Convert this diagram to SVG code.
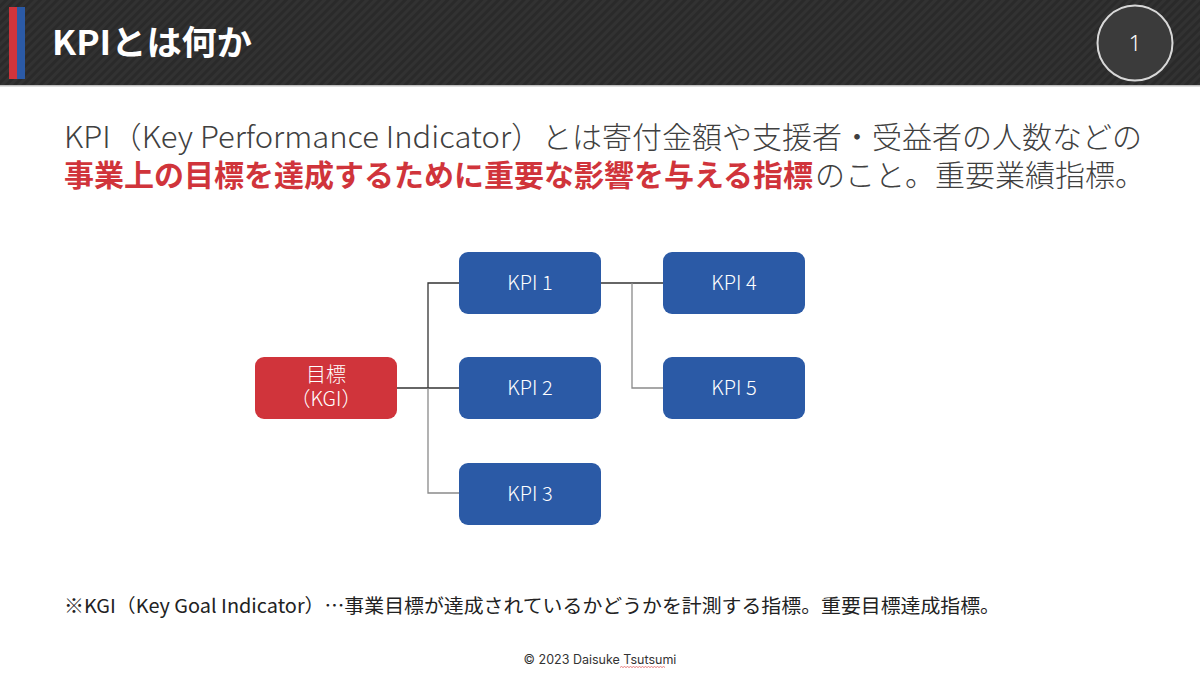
<svg xmlns="http://www.w3.org/2000/svg" width="1200" height="676" viewBox="0 0 1200 676">
<defs>
<pattern id="carbon" width="6" height="6" patternUnits="userSpaceOnUse" patternTransform="rotate(-45)">
<rect width="6" height="6" fill="#2a2a2a"/>
<rect width="6" height="3" fill="#323232"/>
</pattern>
<style>
.jp{font-family:"Noto Sans CJK JP","Noto Sans",sans-serif;}
.node text{fill:#ffffff;font-size:20px;text-anchor:middle;font-weight:300;}
.blue{fill:#2b5aa6;}
.red{fill:#d0343b;}
.dk{stroke:#333333;stroke-width:1.3;fill:none;}
.lt{stroke:#8a8a8a;stroke-width:1.3;fill:none;}
</style>
</defs>
<rect width="1200" height="676" fill="#ffffff"/>
<g id="header">
<rect x="0" y="0" width="1200" height="86" fill="url(#carbon)"/>
<rect x="0" y="85" width="1200" height="1.5" fill="#bdbdbd"/>
<rect x="9" y="7" width="8" height="72" fill="#d0343b"/>
<rect x="17" y="7" width="8" height="72" fill="#2b5aa6"/>
<text x="52" y="55" class="jp" font-size="34" font-weight="bold" fill="#ffffff" textLength="200" lengthAdjust="spacingAndGlyphs">KPIとは何か</text>
<circle cx="1135" cy="43" r="37.5" fill="#3b3b3b" stroke="#d8d8d8" stroke-width="2"/>
<text x="1135" y="51" font-family="'Noto Sans', 'Liberation Sans', sans-serif" font-size="22" font-weight="300" fill="#ffffff" text-anchor="middle">1</text>
</g>
<g id="lead" class="jp" font-size="30" fill="#404040">
<text x="64" y="148" font-weight="300" textLength="478" lengthAdjust="spacingAndGlyphs">KPI（Key Performance Indicator）</text>
<text x="542" y="148" font-weight="300">とは寄付金額や支援者・受益者の人数などの</text>
<text x="64" y="186" fill="#d0343b" font-weight="bold">事業上の目標を達成するために重要な影響を与える指標</text>
<text x="815" y="186" font-weight="300">のこと。重要業績指標。</text>
</g>
<g id="connectors">
<path class="dk" d="M397 388 H459"/>
<path class="dk" d="M428 388 V283 H459"/>
<path class="lt" d="M428 388 V493 H459"/>
<path class="dk" d="M601 283 H663"/>
<path class="lt" d="M632 283 V388 H663"/>
</g>
<g id="kgi" class="node jp">
<rect x="255" y="357" width="142" height="62" rx="9" class="red"/>
<text x="326" y="382">目標</text>
<text x="326" y="406">（KGI）</text>
</g>
<g id="kpi1" class="node jp">
<rect x="459" y="252" width="142" height="62" rx="9" class="blue"/>
<text x="530" y="290">KPI 1</text>
</g>
<g id="kpi2" class="node jp">
<rect x="459" y="357" width="142" height="62" rx="9" class="blue"/>
<text x="530" y="395">KPI 2</text>
</g>
<g id="kpi3" class="node jp">
<rect x="459" y="463" width="142" height="62" rx="9" class="blue"/>
<text x="530" y="501">KPI 3</text>
</g>
<g id="kpi4" class="node jp">
<rect x="663" y="252" width="142" height="62" rx="9" class="blue"/>
<text x="734" y="290">KPI 4</text>
</g>
<g id="kpi5" class="node jp">
<rect x="663" y="357" width="142" height="62" rx="9" class="blue"/>
<text x="734" y="395">KPI 5</text>
</g>
<g id="footnote">
<text x="64" y="613" class="jp" font-size="19" fill="#222222" textLength="936" lengthAdjust="spacingAndGlyphs">※KGI（Key Goal Indicator）…事業目標が達成されているかどうかを計測する指標。重要目標達成指標。</text>
</g>
<g id="copyright">
<text x="600" y="664" font-family="Inter, 'Liberation Sans', sans-serif" font-size="12.5" fill="#333333" text-anchor="middle">© 2023 Daisuke Tsutsumi</text>
<path d="M620 667.5 l1.5 -1 l1.5 1 l1.5 -1 l1.5 1 l1.5 -1 l1.5 1 l1.5 -1 l1.5 1 l1.5 -1 l1.5 1 l1.5 -1 l1.5 1 l1.5 -1 l1.5 1 l1.5 -1 l1.5 1 l1.5 -1 l1.5 1 l1.5 -1 l1.5 1 l1.5 -1 l1.5 1 l1.5 -1 l1.5 1 l1.5 -1 l1.5 1 l1.5 -1 l1.5 1 l1.5 -1 l1.5 1" fill="none" stroke="#e06060" stroke-width="0.8"/>
</g>
</svg>
